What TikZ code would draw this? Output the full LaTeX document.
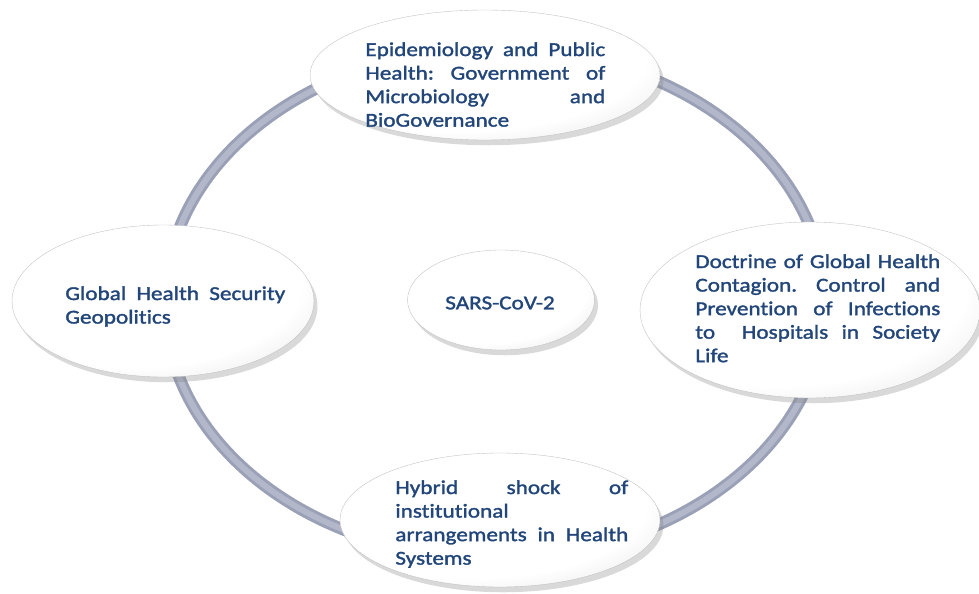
\documentclass[tikz,border=0pt]{standalone}
\usepackage{fontspec}
\setmainfont{Carlito}[FakeStretch=1.18, FakeBold=1.6, Ligatures=NoCommon]
\frenchspacing
\usetikzlibrary{shapes.geometric,shadows}
\definecolor{ink}{HTML}{22467A}
\definecolor{tube}{HTML}{9AA0B6}
\definecolor{tubelt}{HTML}{B2B7CA}
\pgfdeclareradialshading{pillshade}{\pgfpoint{-8bp}{10bp}}{color(0bp)=(white); color(28bp)=(white); color(52bp)=(black!20); color(75bp)=(black!25)}
\begin{document}
\begin{tikzpicture}[x=0.02cm, y=-0.02cm]
\tikzstyle{pill}=[ellipse, draw=black!25, very thin, shading=pillshade, drop shadow={shadow xshift=2pt, shadow yshift=-3pt, opacity=0.3}]
\tikzstyle{txt}=[anchor=north west, inner sep=0pt, align=justify, text=ink, font=\fontsize{11.2pt}{13.4pt}\selectfont]
\useasboundingbox (0,0) rectangle (979,594);
% ring behind the ellipses
\coordinate (hub) at (495,303);
\draw[color=tube, line width=0.24cm] (hub) ellipse (330 and 255);
\draw[color=tubelt, line width=0.12cm] (hub) ellipse (330 and 255);
% ellipses
\node[pill, minimum width=7cm, minimum height=2.6cm] (epi) at (485,75) {};
\node[pill, minimum width=6.04cm, minimum height=3.04cm] (geo) at (163,301) {};
\node[pill, minimum width=3.74cm, minimum height=2cm] (sars) at (501,300) {};
\node[pill, minimum width=6.8cm, minimum height=3.52cm] (doc) at (810,310) {};
\node[pill, minimum width=6.4cm, minimum height=2.68cm] (hyb) at (500,520) {};
% texts
\node[txt, text width=4.8cm] (epit) at (365,42) {Epidemiology and Public\linebreak Health: Government of\linebreak Microbiology and\linebreak BioGovernance};
\node[txt, text width=4.4cm] (geot) at (65,286) {Global Health Security\linebreak Geopolitics};
\node[txt, align=center, anchor=center] (sarst) at (500,303) {SARS-CoV-2};
\node[txt, text width=4.9cm] (doct) at (695,254) {Doctrine of Global Health\linebreak Contagion. Control and\linebreak Prevention of Infections\linebreak to\ \ Hospitals in Society\linebreak Life};
\node[txt, text width=4.66cm] (hybt) at (395,480) {Hybrid shock of\linebreak institutional\\ arrangements in Health\linebreak Systems};
\end{tikzpicture}
\end{document}
